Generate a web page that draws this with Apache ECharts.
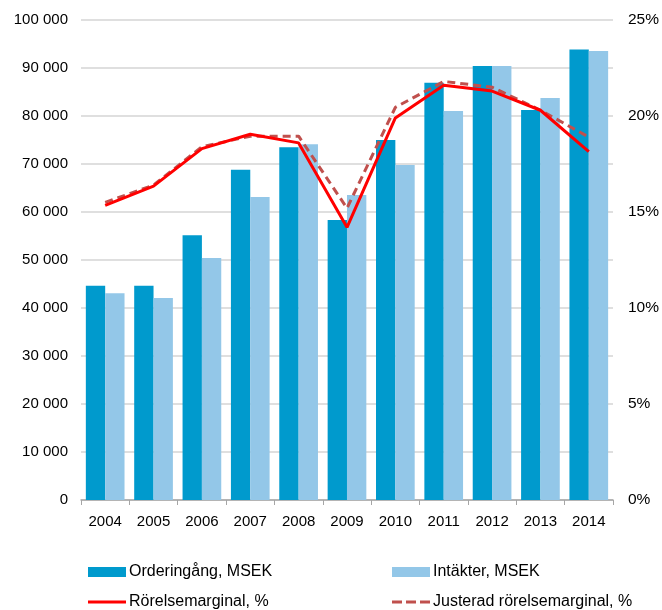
<!DOCTYPE html>
<html><head><meta charset="utf-8">
<script src="https://cdn.jsdelivr.net/npm/echarts@6/dist/echarts.min.js"></script>
<style>html,body{margin:0;padding:0;background:#fff}#c{width:662px;height:610px}</style>
</head><body><div id="c"></div>
<script>
var years = ['2004','2005','2006','2007','2008','2009','2010','2011','2012','2013','2014'];
var orderingang = [44650, 44650, 55150, 68800, 73500, 58350, 75000, 86950, 90400, 81250, 93850];
var intakter = [43050, 42100, 50400, 63100, 74100, 63550, 69800, 81050, 90400, 83750, 93550];
var rorelsemarginal = [15.35, 16.35, 18.3, 19.05, 18.6, 14.2, 19.9, 21.6, 21.3, 20.3, 18.15];
var justerad = [15.5, 16.4, 18.4, 18.95, 18.95, 15.2, 20.45, 21.8, 21.5, 20.3, 18.9];

var chart = echarts.init(document.getElementById('c'));
var font = 'Liberation Sans, Arial, sans-serif';
function legend(name, left, top, icon, h) {
  return {data: [name], left: left, top: top, itemWidth: 38, itemHeight: h, itemGap: 0, icon: icon,
    textStyle: {fontFamily: font, fontSize: 16, color: '#000', padding: [0,0,0,-2]}, padding: 0, selectedMode: false};
}
chart.setOption({
  animation: false,
  grid: {left: 81, right: 49, top: 20, bottom: 110},
  legend: [
    legend('Orderingång, MSEK', 88, 564, 'rect', 10),
    legend('Intäkter, MSEK', 392, 564, 'rect', 10),
    legend('Rörelsemarginal, %', 88, 594, 'rect', 3),
    legend('Justerad rörelsemarginal, %', 392, 594, 'path://M0,0h10v3h-10z M14,0h10v3h-10z M28,0h10v3h-10z', 3)
  ],
  xAxis: {type: 'category', data: years,
    axisLine: {lineStyle: {color: '#A6A6A6', width: 1.5}},
    axisTick: {show: true, length: 5, lineStyle: {color: '#A6A6A6'}},
    axisLabel: {fontFamily: font, fontSize: 15, color: '#000', margin: 14}
  },
  yAxis: [
    {type: 'value', min: 0, max: 100000, interval: 10000,
      axisLine: {show: false}, axisTick: {show: false},
      splitLine: {lineStyle: {color: '#D4D4D4', width: 1.5}},
      axisLabel: {fontFamily: font, fontSize: 15, color: '#000', margin: 13,
        formatter: function(v){ return String(v).replace(/\B(?=(\d{3})+(?!\d))/g, ' '); }}
    },
    {type: 'value', min: 0, max: 25, interval: 5, position: 'right',
      axisLine: {show: false}, axisTick: {show: false}, splitLine: {show: false},
      axisLabel: {fontFamily: font, fontSize: 15.5, color: '#000', margin: 15, formatter: '{value}%'}
    }
  ],
  series: [
    {name: 'Orderingång, MSEK', type: 'bar', data: orderingang, barGap: '0%', barCategoryGap: '20%',
      itemStyle: {color: '#009ACD'}},
    {name: 'Intäkter, MSEK', type: 'bar', data: intakter,
      itemStyle: {color: '#93C7E8'}},
    {name: 'Rörelsemarginal, %', type: 'line', yAxisIndex: 1, data: rorelsemarginal,
      symbol: 'none', lineStyle: {color: '#FF0000', width: 3}, itemStyle: {color: '#FF0000'}, z: 4},
    {name: 'Justerad rörelsemarginal, %', type: 'line', yAxisIndex: 1, data: justerad,
      symbol: 'none', lineStyle: {color: '#C0504D', width: 3, type: [8, 5]}, itemStyle: {color: '#C0504D'}, z: 3}
  ]
});
</script></body></html>
